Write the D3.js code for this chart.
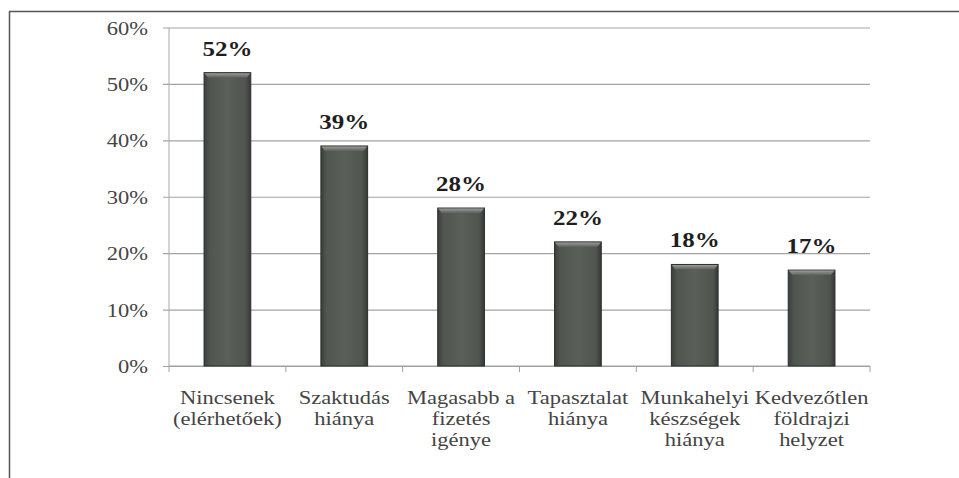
<!DOCTYPE html>
<html><head><meta charset="utf-8">
<script src="https://cdn.jsdelivr.net/npm/d3@7"></script>
<style>body{margin:0;background:#fff}svg{display:block}</style>
</head><body>
<svg id="c" width="959" height="478"></svg>
<script>
const categories = [
  ["Nincsenek","(elérhetőek)"],
  ["Szaktudás","hiánya"],
  ["Magasabb a","fizetés","igénye"],
  ["Tapasztalat","hiánya"],
  ["Munkahelyi","készségek","hiánya"],
  ["Kedvezőtlen","földrajzi","helyzet"]
];
const values = [0.52, 0.39, 0.28, 0.22, 0.18, 0.17];
const yTicks = [0, 0.1, 0.2, 0.3, 0.4, 0.5, 0.6];

const svg = d3.select("#c");
const SX = 1.25;
const m = {left:169, right:870, top:27.5, bottom:366};
const keys = categories.map((d,i)=>i);
const x = d3.scaleBand().domain(keys).range([m.left, m.right]).paddingInner(0.6).paddingOuter(0.3);
const xb = d3.scaleLinear().domain([0, categories.length]).range([m.left, m.right]);
const y = d3.scaleLinear().domain([0, 0.6]).range([m.bottom, m.top]);
const fmt = d3.format(".0%");

// frame
svg.append("line").attr("x1",9).attr("x2",959).attr("y1",11.5).attr("y2",11.5).attr("stroke","#555").attr("stroke-width",1.5);
svg.append("line").attr("x1",9.5).attr("x2",9.5).attr("y1",11).attr("y2",478).attr("stroke","#555").attr("stroke-width",1.5);

// gradient
const defs = svg.append("defs");
const g = defs.append("linearGradient").attr("id","bg").attr("x1","0").attr("x2","1").attr("y1","0").attr("y2","0");
g.append("stop").attr("offset","0").attr("stop-color","#3a3f3a");
g.append("stop").attr("offset","0.12").attr("stop-color","#505550");
g.append("stop").attr("offset","0.5").attr("stop-color","#5a5f5a");
g.append("stop").attr("offset","0.88").attr("stop-color","#505550");
g.append("stop").attr("offset","1").attr("stop-color","#353a35");
const gt = defs.append("linearGradient").attr("id","tg").attr("x1","0").attr("x2","0").attr("y1","0").attr("y2","1");
gt.append("stop").attr("offset","0").attr("stop-color","#9a9c9a");
gt.append("stop").attr("offset","1").attr("stop-color","#5c605c");

// gridlines
const yAxis = d3.axisLeft(y).tickValues(yTicks).tickSize(-(m.right - m.left + 6)).tickFormat("");
const ga = svg.append("g").attr("transform",`translate(${m.left-6},0)`).call(yAxis);
ga.select(".domain").remove();
ga.selectAll(".tick line").attr("stroke","#a3a3a3").attr("stroke-width",1.2);

// y axis line
svg.append("line").attr("x1",m.left).attr("x2",m.left).attr("y1",m.top).attr("y2",m.bottom).attr("stroke","#a8a8a8");

// y labels
svg.append("g").selectAll("text").data(yTicks).join("text")
  .attr("transform", d=>`translate(148,${y(d)+7}) scale(${SX},1)`)
  .attr("text-anchor","end")
  .attr("font-family","'Liberation Serif','Times New Roman',serif")
  .attr("font-size",18).attr("fill","#444")
  .text(d=>fmt(d));

// x axis
svg.append("line").attr("x1",m.left).attr("x2",m.right).attr("y1",m.bottom).attr("y2",m.bottom).attr("stroke","#a0a0a0").attr("stroke-width",1.2);
svg.append("g").selectAll("line").data(d3.range(categories.length+1)).join("line")
  .attr("x1",d=>xb(d)).attr("x2",d=>xb(d)).attr("y1",m.bottom).attr("y2",m.bottom+6)
  .attr("stroke","#a0a0a0");

// bars
const bars = svg.append("g").selectAll("g").data(values).join("g");
bars.append("rect")
  .attr("x",(d,i)=>x(i)).attr("width",x.bandwidth())
  .attr("y",d=>y(d)).attr("height",d=>m.bottom - y(d))
  .attr("fill","url(#bg)").attr("stroke","#2c302c").attr("stroke-width",1);
bars.append("path")
  .attr("d",(d,i)=>{const x0=x(i),x1=x(i)+x.bandwidth(),t=y(d);return `M${x0+0.5},${t+0.5}L${x1-0.5},${t+0.5}L${x1-4},${t+5}L${x0+4},${t+5}Z`;})
  .attr("fill","url(#tg)");

// value labels
svg.append("g").selectAll("text").data(values).join("text")
  .attr("transform",(d,i)=>`translate(${x(i)+x.bandwidth()/2},${y(d)-17}) scale(${SX},1)`)
  .attr("text-anchor","middle")
  .attr("font-family","'Liberation Serif','Times New Roman',serif")
  .attr("font-weight","bold").attr("font-size",20).attr("fill","#1e1e1e")
  .text(d=>fmt(d));

// category labels
const cl = svg.append("g").selectAll("g").data(categories).join("g");
cl.selectAll("text").data((d,i)=>d.map((s,j)=>({s,j,i}))).join("text")
  .attr("transform",d=>`translate(${x(d.i)+x.bandwidth()/2},${404 + d.j*21}) scale(${SX},1)`)
  .attr("text-anchor","middle")
  .attr("font-family","'Liberation Serif','Times New Roman',serif")
  .attr("font-size",18).attr("fill","#444")
  .text(d=>d.s);
</script>
</body></html>
